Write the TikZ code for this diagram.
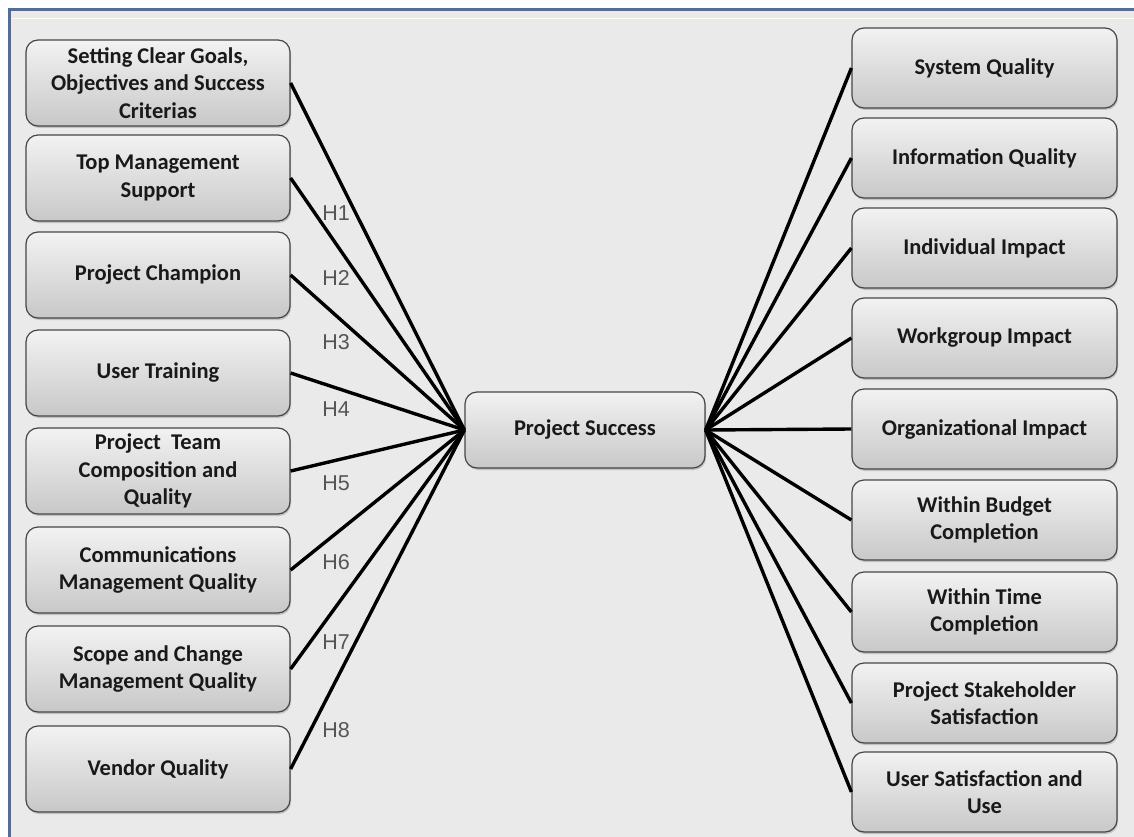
\documentclass[tikz,border=0pt]{standalone}
\usepackage{fontspec}
\usetikzlibrary{shadows}
\newfontfamily\boxfont{Carlito}
\newfontfamily\hfont{Liberation Sans}
\definecolor{panel}{RGB}{234,234,234}
\definecolor{frameblue}{RGB}{79,109,158}
\definecolor{boxtop}{RGB}{242,242,242}
\definecolor{boxbot}{RGB}{200,200,200}
\definecolor{boxline}{RGB}{70,70,70}
\definecolor{htext}{RGB}{85,85,85}
\begin{document}
\begin{tikzpicture}[x=1pt,y=-1pt,
  box/.style={draw=boxline, line width=1.2pt, rounded corners=12pt,
    top color=boxtop, bottom color=boxbot, align=center,
    font=\boxfont\bfseries\fontsize{22.5}{27.5}\selectfont, text=black!90,
    inner sep=0pt,
    drop shadow={shadow xshift=1pt, shadow yshift=-2pt, opacity=.3, fill=black!60}},
  leftbox/.style={box, minimum width=264pt, minimum height=86pt},
  rightbox/.style={box, minimum width=265pt, minimum height=80pt},
  hub/.style={box, minimum width=240pt, minimum height=76pt},
  link/.style={draw=black, line width=3.4pt},
  hyp/.style={font=\hfont\fontsize{21.5}{21.5}\selectfont, text=htext, inner sep=0pt}]
\useasboundingbox (0,0) rectangle (1134,837);
% panel and its frame
\fill[white] (0,0) rectangle (1134,837);
\fill[panel] (9,10) rectangle (1134,837);
\draw[white!90!yellow, line width=1pt] (11,19) -- (1134,19);
\draw[frameblue, line width=3pt] (9,837) -- (9,10) -- (1134,10);

% central construct
\node[hub] (ps) at (585,430) {Project Success};

% success factors
\node[leftbox] (L1) at (158,83)  {Setting Clear Goals,\\Objectives and Success\\Criterias};
\node[leftbox] (L2) at (158,178) {Top Management\\Support};
\node[leftbox] (L3) at (158,275) {Project Champion};
\node[leftbox] (L4) at (158,373) {User Training};
\node[leftbox] (L5) at (158,471) {Project\ \ Team\\Composition and\\Quality};
\node[leftbox] (L6) at (158,570) {Communications\\Management Quality};
\node[leftbox] (L7) at (158,669) {Scope and Change\\Management Quality};
\node[leftbox] (L8) at (158,769) {Vendor Quality};

% success dimensions
\node[rightbox] (R1) at (984.5,68)  {System Quality};
\node[rightbox] (R2) at (984.5,158) {Information Quality};
\node[rightbox] (R3) at (984.5,248) {Individual Impact};
\node[rightbox] (R4) at (984.5,338) {Workgroup Impact};
\node[rightbox] (R5) at (984.5,429) {Organizational Impact};
\node[rightbox] (R6) at (984.5,520) {Within Budget\\Completion};
\node[rightbox] (R7) at (984.5,612) {Within Time\\Completion};
\node[rightbox] (R8) at (984.5,703) {Project Stakeholder\\Satisfaction};
\node[rightbox] (R9) at (984.5,792) {User Satisfaction and\\Use};

% connectors
\foreach \i in {1,...,8} \draw[link] (L\i.east) -- (ps.west);
\foreach \i in {1,...,9} \draw[link] (ps.east) -- (R\i.west);

% hypothesis labels
\node[hyp] (h1) at (336,213) {H1};
\node[hyp] (h2) at (336,278) {H2};
\node[hyp] (h3) at (336,342) {H3};
\node[hyp] (h4) at (336,409) {H4};
\node[hyp] (h5) at (336,483) {H5};
\node[hyp] (h6) at (336,562) {H6};
\node[hyp] (h7) at (336,642) {H7};
\node[hyp] (h8) at (336,730) {H8};
\end{tikzpicture}
\end{document}
